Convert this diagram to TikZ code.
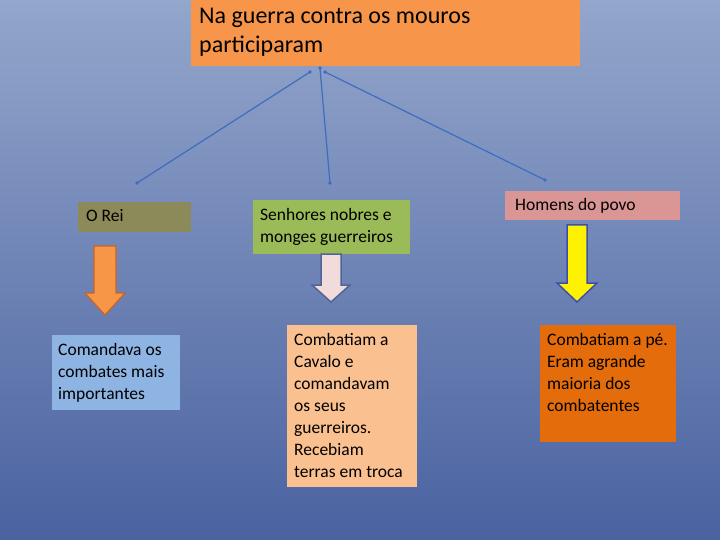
\documentclass[tikz,border=0pt]{standalone}
\usepackage{fontspec}
\setmainfont{Carlito}
\usetikzlibrary{shapes.arrows}
\definecolor{bgtop}{HTML}{93A6CB}
\definecolor{bgbot}{HTML}{4A62A0}
\definecolor{cn}{HTML}{3F6CC0}
\begin{document}
\begin{tikzpicture}[x=1pt,y=-1pt,
  txt/.style={anchor=north west,align=left,inner sep=0pt,font=\fontsize{17.5}{22}\selectfont},
  conn/.style={draw=cn,line width=1.2pt},
  dot/.style={circle,fill=cn,inner sep=1.4pt}]
\shade[top color=bgtop,bottom color=bgbot] (0,0) rectangle (720,540);
\useasboundingbox (0,0) rectangle (720,540);
% boxes
\fill[fill={rgb,255:red,247;green,150;blue,74}] (191,0) rectangle (580,66);
\node[txt,font=\fontsize{24}{29}\selectfont] (top) at (199,8) {Na guerra contra os mouros\\participaram};
\fill[fill={rgb,255:red,140;green,138;blue,88}] (78,202) rectangle (191,232);
\node[txt] (rei) at (86,209) {O Rei};
\fill[fill={rgb,255:red,155;green,187;blue,89}] (253,200) rectangle (410,254);
\node[txt] (sen) at (260,208) {Senhores nobres e\\monges guerreiros};
\fill[fill={rgb,255:red,218;green,150;blue,148}] (505,191) rectangle (680,220);
\node[txt] (hom) at (515,198) {Homens do povo};
\fill[fill={rgb,255:red,142;green,180;blue,227}] (52,335) rectangle (180,410);
\node[txt] (com) at (58,343) {Comandava os\\combates mais\\importantes};
\fill[fill={rgb,255:red,250;green,192;blue,144}] (287,325) rectangle (417,487);
\node[txt] (cav) at (294,333) {Combatiam a\\Cavalo e\\comandavam\\os seus\\guerreiros.\\Recebiam\\terras em troca};
\fill[fill={rgb,255:red,228;green,108;blue,10}] (540,325) rectangle (676,442);
\node[txt] (pe) at (547,333) {Combatiam a pé.\\Eram agrande\\maioria dos\\combatentes};
% connectors
\coordinate (s1) at (310,72); \coordinate (s2) at (320,68); \coordinate (s3) at (325,72);
\coordinate (e1) at (137,183); \coordinate (e2) at (330,183); \coordinate (e3) at (545,180);
\draw[conn] (s1) -- (e1); \draw[conn] (s2) -- (e2); \draw[conn] (s3) -- (e3);
\foreach \p in {s1,s2,s3,e1,e2,e3} \node[dot] at (\p) {};
% arrows
\draw[line width=1.2pt,draw={rgb,255:red,200;green,100;blue,40},fill={rgb,255:red,247;green,150;blue,70}]
  (94,246) -- (116,246) -- (116,293) -- (125,293) -- (105,315) -- (85,293) -- (94,293) -- cycle;
\draw[line width=1.5pt,draw={rgb,255:red,80;green,100;blue,150},fill={rgb,255:red,242;green,220;blue,219}]
  (321,254) -- (341,254) -- (341,285) -- (350,285) -- (331,302) -- (312,285) -- (321,285) -- cycle;
\draw[line width=1.5pt,draw={rgb,255:red,60;green,80;blue,170},fill=yellow]
  (567,225) -- (587,225) -- (587,283) -- (597,283) -- (577,302) -- (557,283) -- (567,283) -- cycle;
\end{tikzpicture}
\end{document}
